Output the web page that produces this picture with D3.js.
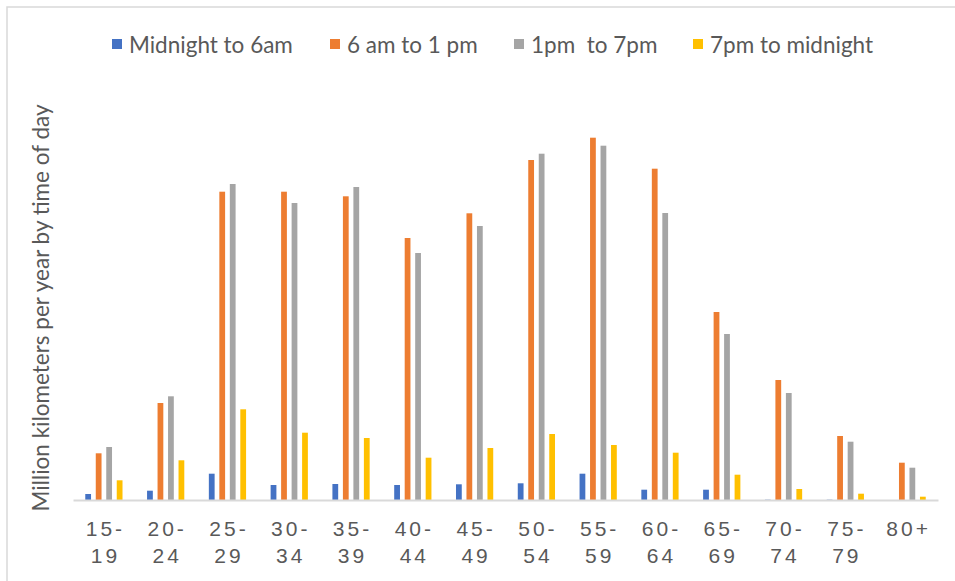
<!DOCTYPE html>
<html>
<head>
<meta charset="utf-8">
<script src="https://cdn.jsdelivr.net/npm/d3@7"></script>
<style>
  html, body { margin: 0; padding: 0; background: #fff; }
  svg { display: block; font-family: Lato, "Open Sans", sans-serif; }
</style>
</head>
<body>
<svg id="chart" width="955" height="581"></svg>
<script>
// Age groups (x-axis)
const categories = ["15-19", "20-24", "25-29", "30-34", "35-39", "40-44", "45-49",
                    "50-54", "55-59", "60-64", "65-69", "70-74", "75-79", "80+"];

// Series names (legend)
const seriesNames = ["Midnight to 6am", "6 am to 1 pm", "1pm  to 7pm", "7pm to midnight"];

// Million kilometers per year, by time of day
const midnightTo6am   = [60, 93, 263, 150, 160, 150, 157, 167, 263, 103, 103, 3, 3, 0];
const sixAmTo1pm      = [467, 970, 3083, 3083, 3037, 2620, 2867, 3400, 3623, 3313, 1880, 1200, 640, 373];
const onePmTo7pm      = [530, 1037, 3160, 2970, 3130, 2470, 2740, 3463, 3543, 2870, 1660, 1070, 583, 323];
const sevenPmToMidnight = [197, 397, 907, 673, 620, 423, 520, 660, 550, 473, 253, 110, 63, 33];

const seriesValues = [midnightTo6am, sixAmTo1pm, onePmTo7pm, sevenPmToMidnight];
const colors = ["#4472C4", "#ED7D31", "#A5A5A5", "#FFC000"];

const svg = d3.select("#chart");
const W = 955, H = 581;
const plot = { left: 73, right: 938, top: 100, bottom: 500 };

// outer frame
svg.append("path")
  .attr("d", `M7,${H + 2} L7,7 L${W + 2},7`)
  .attr("fill", "none")
  .attr("stroke", "#d9d9d9")
  .attr("stroke-width", 1.5);

const x0 = d3.scaleBand()
  .domain(categories)
  .range([plot.left, plot.right])
  .padding(0);

const x1 = d3.scaleBand()
  .domain(d3.range(seriesNames.length))
  .range([0, x0.bandwidth()])
  .paddingInner(0.45)
  .paddingOuter(1.17);

const y = d3.scaleLinear()
  .domain([0, 4000])
  .range([plot.bottom, plot.top]);

// bars
const groups = svg.append("g").selectAll("g")
  .data(categories)
  .join("g")
  .attr("transform", d => `translate(${x0(d)},0)`);

groups.selectAll("rect")
  .data((d, ci) => seriesValues.map((vals, si) => ({ si, v: vals[ci] })))
  .join("rect")
  .attr("x", d => x1(d.si))
  .attr("width", x1.bandwidth())
  .attr("y", d => y(d.v))
  .attr("height", d => y(0) - y(d.v))
  .attr("fill", d => colors[d.si]);

// category axis
const xAxis = svg.append("g")
  .attr("transform", `translate(0,${plot.bottom})`)
  .call(d3.axisBottom(x0).tickSize(0).tickFormat(""));
xAxis.select(".domain")
  .attr("stroke", "#d9d9d9")
  .attr("stroke-width", 2);

xAxis.selectAll(".tick").each(function (d) {
  const parts = d.includes("-") ? [d.slice(0, d.indexOf("-") + 1), d.slice(d.indexOf("-") + 1)] : [d];
  const t = d3.select(this).append("text")
    .attr("fill", "#595959")
    .attr("font-size", 21)
    .attr("letter-spacing", "3px")
    .attr("text-anchor", "middle");
  parts.forEach((p, i) => {
    t.append("tspan")
      .attr("x", 1.5)
      .attr("y", 35.5 + i * 27)
      .text(p);
  });
});

// y-axis title
svg.append("text")
  .attr("transform", `translate(49,${308}) rotate(-90)`)
  .attr("text-anchor", "middle")
  .attr("fill", "#595959")
  .attr("font-size", 22.5)
  .text("Million kilometers per year by time of day");

// legend
const legendX = [112, 330, 514, 693];
const legend = svg.append("g").selectAll("g")
  .data(seriesNames)
  .join("g")
  .attr("transform", (d, i) => `translate(${legendX[i]},45)`);
legend.append("rect")
  .attr("x", 0).attr("y", -6)
  .attr("width", 10).attr("height", 10)
  .attr("fill", (d, i) => colors[i]);
legend.append("text")
  .attr("x", 17)
  .attr("y", 7.5)
  .attr("fill", "#595959")
  .attr("font-size", 22.5)
  .attr("xml:space", "preserve")
  .style("white-space", "pre")
  .text(d => d);
</script>
</body>
</html>
